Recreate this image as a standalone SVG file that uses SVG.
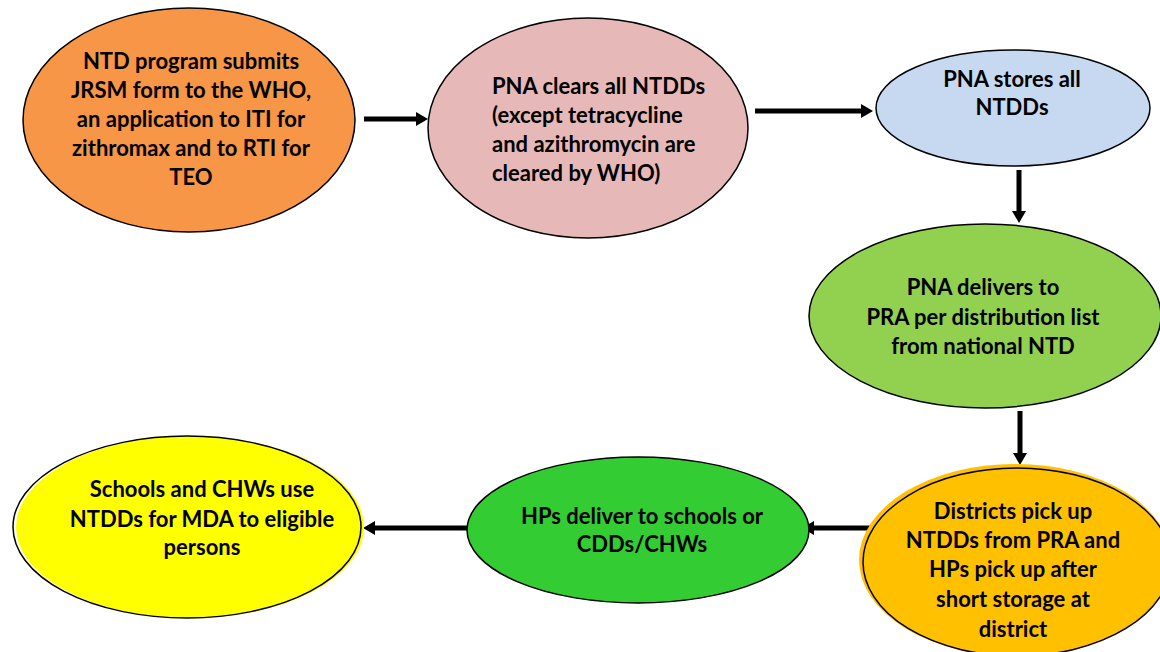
<svg xmlns="http://www.w3.org/2000/svg" width="1160" height="652" viewBox="0 0 1160 652">
<style>
.node ellipse.s{stroke:#000;stroke-width:1.5}
.t{font-family:Lato,"Open Sans","Liberation Sans",sans-serif;font-weight:bold;font-size:22px;fill:#000}
.c{text-anchor:middle}
.con line{stroke:#000;stroke-width:5;marker-end:url(#ah)}
</style>
<defs>
<marker id="ah" viewBox="0 0 12 14" refX="2" refY="7" markerWidth="12" markerHeight="14" markerUnits="userSpaceOnUse" orient="auto">
<path d="M0,0 L12,7 L0,14 Z" fill="#000"/>
</marker>
</defs>
<rect width="1160" height="652" fill="#fff"/>
<g id="connectors" class="con">
<line x1="364" y1="119" x2="418" y2="119"/>
<line x1="755" y1="111" x2="863" y2="111"/>
<line x1="1019" y1="170" x2="1019" y2="213"/>
<line x1="1020" y1="411" x2="1020" y2="455"/>
<line x1="887" y1="528" x2="812" y2="528"/>
<line x1="467" y1="528" x2="373" y2="528"/>
</g>
<g id="n1" class="node">
<ellipse class="s" cx="189" cy="120" rx="166" ry="112" fill="#F79646"/>
<text class="t c"><tspan x="191" y="69">NTD program submits</tspan><tspan x="191" y="98">JRSM form to the WHO,</tspan><tspan x="191" y="127">an application to ITI for</tspan><tspan x="191" y="156">zithromax and to RTI for</tspan><tspan x="191" y="185">TEO</tspan></text>
</g>
<g id="n2" class="node">
<ellipse class="s" cx="588" cy="128" rx="160" ry="110" fill="#E6B9B8"/>
<text class="t"><tspan x="492" y="94">PNA clears all NTDDs</tspan><tspan x="492" y="123">(except tetracycline</tspan><tspan x="492" y="152">and azithromycin are</tspan><tspan x="492" y="181">cleared by WHO)</tspan></text>
</g>
<g id="n3" class="node">
<ellipse class="s" cx="1013" cy="108" rx="137" ry="58" fill="#C6D9F1"/>
<text class="t c"><tspan x="1012" y="87">PNA stores all</tspan><tspan x="1012" y="115">NTDDs</tspan></text>
</g>
<g id="n4" class="node">
<ellipse class="s" cx="985" cy="316" rx="176" ry="92" fill="#92D050"/>
<text class="t c"><tspan x="983" y="295">PNA delivers to</tspan><tspan x="983" y="325">PRA per distribution list</tspan><tspan x="983" y="354">from national NTD</tspan></text>
</g>
<g id="n5" class="node">
<ellipse cx="1015" cy="560" rx="156" ry="96" fill="#FFC000"/>
<ellipse class="s" cx="1017" cy="562" rx="154" ry="94" fill="#FFC000"/>
<text class="t c"><tspan x="1013" y="519">Districts pick up</tspan><tspan x="1013" y="548">NTDDs from PRA and</tspan><tspan x="1013" y="577">HPs pick up after</tspan><tspan x="1013" y="607">short storage at</tspan><tspan x="1013" y="637">district</tspan></text>
</g>
<g id="n6" class="node">
<ellipse class="s" cx="638" cy="530" rx="171" ry="73" fill="#33CC33"/>
<text class="t c"><tspan x="642" y="524">HPs deliver to schools or</tspan><tspan x="642" y="552">CDDs/CHWs</tspan></text>
</g>
<g id="n7" class="node">
<ellipse cx="190" cy="527" rx="174" ry="91" fill="#FFFF00"/>
<ellipse class="s" cx="187" cy="527" rx="174" ry="91" fill="none"/>
<text class="t c"><tspan x="202" y="497">Schools and CHWs use</tspan><tspan x="202" y="527">NTDDs for MDA to eligible</tspan><tspan x="202" y="555">persons</tspan></text>
</g>
</svg>
